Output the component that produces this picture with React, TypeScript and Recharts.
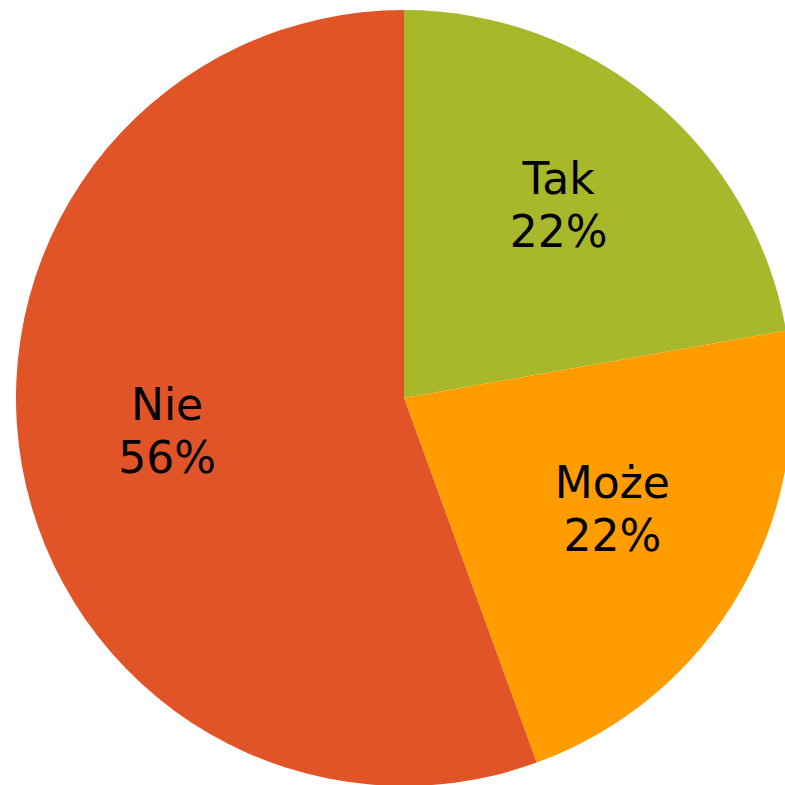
import { PieChart, Pie, Cell } from "recharts"

const categories = ["Tak", "Może", "Nie"]
const values = [2, 2, 5]
const percentLabels = ["22%", "22%", "56%"]
const colors = ["#a8b82b", "#ff9c00", "#e05427"]

const RADIAN = Math.PI / 180

const data = categories.map((name, i) => ({
    name,
    value: values[i],
    pct: percentLabels[i],
}))

const renderLabel = (props: any) => {
    const { cx, cy, midAngle, outerRadius, index } = props
    const r = outerRadius * 0.62
    const x = cx + r * Math.cos(-midAngle * RADIAN)
    const y = cy + r * Math.sin(-midAngle * RADIAN)
    return (
        <text
            x={x}
            y={y}
            textAnchor="middle"
            fill="#000"
            fontSize={44}
            fontFamily="'DejaVu Sans', sans-serif"
        >
            <tspan x={x} y={y - 20}>{categories[index]}</tspan>
            <tspan x={x} y={y + 33}>{percentLabels[index]}</tspan>
        </text>
    )
}

export default function App() {
    return (
        <div style={{ position: "absolute", left: 0, top: 0, width: 785, height: 785, background: "#fff" }}>
            <PieChart width={785} height={785} margin={{ top: 0, right: 0, bottom: 0, left: 0 }}>
                <Pie
                    data={data}
                    dataKey="value"
                    nameKey="name"
                    cx={404}
                    cy={398}
                    outerRadius={388}
                    startAngle={90}
                    endAngle={-270}
                    stroke="none"
                    label={renderLabel}
                    labelLine={false}
                    isAnimationActive={false}
                >
                    {data.map((entry, index) => (
                        <Cell key={`cell-${index}`} fill={colors[index]} />
                    ))}
                </Pie>
            </PieChart>
        </div>
    )
}
